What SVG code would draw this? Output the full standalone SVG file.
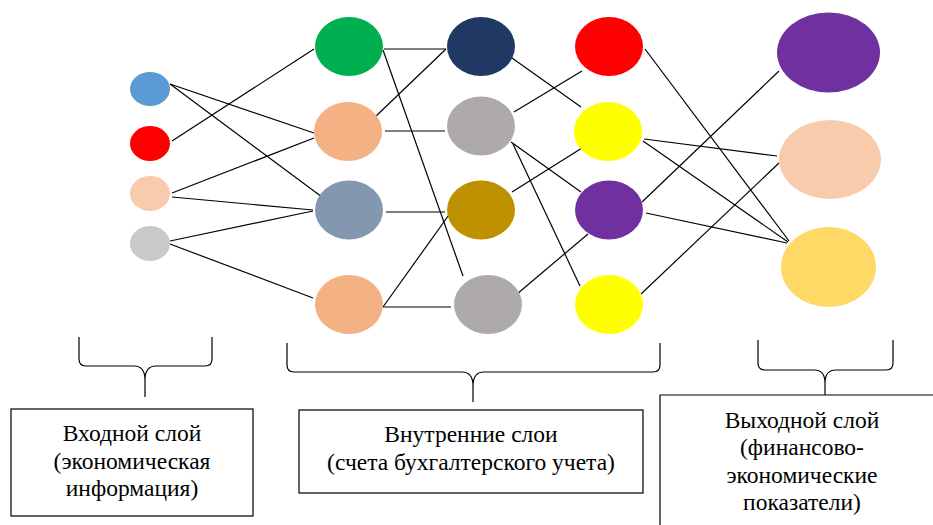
<svg xmlns="http://www.w3.org/2000/svg" width="933" height="525" viewBox="0 0 933 525">
<rect width="933" height="525" fill="#fff"/>
<g id="connectors" stroke="#000" stroke-width="1.2" fill="none">
<line x1="170" y1="84" x2="314" y2="133"/>
<line x1="170" y1="84" x2="322" y2="197"/>
<line x1="172" y1="141" x2="314" y2="49"/>
<line x1="172" y1="193" x2="314" y2="138"/>
<line x1="172" y1="197" x2="313" y2="210"/>
<line x1="170" y1="241" x2="313" y2="211"/>
<line x1="170" y1="244" x2="313" y2="298"/>
<line x1="384" y1="49" x2="446" y2="49"/>
<line x1="383" y1="50" x2="463" y2="276"/>
<line x1="374" y1="118" x2="446" y2="49"/>
<line x1="385" y1="131" x2="445" y2="131"/>
<line x1="386" y1="212" x2="445" y2="212"/>
<line x1="383" y1="307" x2="451" y2="212"/>
<line x1="383" y1="307" x2="451" y2="307"/>
<line x1="512" y1="58" x2="581" y2="107"/>
<line x1="514" y1="112" x2="582" y2="71"/>
<line x1="511" y1="142" x2="581" y2="192"/>
<line x1="513" y1="144" x2="580" y2="286"/>
<line x1="512" y1="192" x2="582" y2="148"/>
<line x1="517" y1="294" x2="588" y2="234"/>
<line x1="645" y1="49" x2="789" y2="241"/>
<line x1="644" y1="139" x2="777" y2="156"/>
<line x1="643" y1="141" x2="788" y2="242"/>
<line x1="642" y1="202" x2="779" y2="71"/>
<line x1="646" y1="213" x2="787" y2="243"/>
<line x1="641" y1="294" x2="779" y2="163"/>
</g>
<g id="in1"><ellipse cx="150" cy="89" rx="20" ry="17" fill="#5B9BD5"/></g>
<g id="in2"><ellipse cx="150" cy="143.5" rx="20" ry="17.5" fill="#FF0000"/></g>
<g id="in3"><ellipse cx="150" cy="193.5" rx="20" ry="17.5" fill="#F8CBAD"/></g>
<g id="in4"><ellipse cx="150" cy="243.5" rx="20" ry="17.5" fill="#C9C9C9"/></g>
<g id="h1a"><ellipse cx="349" cy="46.5" rx="34" ry="29.5" fill="#00B050"/></g>
<g id="h1b"><ellipse cx="348" cy="131.5" rx="34" ry="29.5" fill="#F4B183"/></g>
<g id="h1c"><ellipse cx="349" cy="210" rx="34" ry="29.5" fill="#8497B0"/></g>
<g id="h1d"><ellipse cx="349" cy="304.5" rx="34" ry="29.5" fill="#F4B183"/></g>
<g id="h2a"><ellipse cx="481" cy="46.5" rx="34" ry="29.5" fill="#203864"/></g>
<g id="h2b"><ellipse cx="481" cy="126" rx="34" ry="29.5" fill="#AEAAAA"/></g>
<g id="h2c"><ellipse cx="481" cy="210" rx="34" ry="29.5" fill="#BF9000"/></g>
<g id="h2d"><ellipse cx="488" cy="304.5" rx="34" ry="29.5" fill="#AEAAAA"/></g>
<g id="h3a"><ellipse cx="609" cy="46.5" rx="34" ry="29.5" fill="#FF0000"/></g>
<g id="h3b"><ellipse cx="608" cy="131.5" rx="34" ry="29.5" fill="#FFFF00"/></g>
<g id="h3c"><ellipse cx="609" cy="210" rx="34" ry="29.5" fill="#7030A0"/></g>
<g id="h3d"><ellipse cx="609" cy="304.5" rx="34" ry="29.5" fill="#FFFF00"/></g>
<g id="out1"><ellipse cx="828.5" cy="52.5" rx="51.5" ry="40" fill="#7030A0"/></g>
<g id="out2"><ellipse cx="830" cy="159.5" rx="51" ry="39.5" fill="#F8CBAD"/></g>
<g id="out3"><ellipse cx="828.5" cy="267" rx="47.5" ry="40" fill="#FFD966"/></g>
<g id="braces" stroke="#000" stroke-width="1.2" fill="none">
<path id="brace1" d="M79,337 L79,359 Q79,366 86,366 L134,366 Q145,366 145,380 L145,397 M145,380 Q145,366 156,366 L205,366 Q212,366 212,359 L212,337"/>
<path id="brace2" d="M287,343 L287,365 Q287,372 294,372 L462,372 Q473,372 473,386 L473,402 M473,386 Q473,372 484,372 L653,372 Q660,372 660,365 L660,343"/>
<path id="brace3" d="M758,340 L758,363 Q758,370 765,370 L814,370 Q825,370 825,383 L825,395 M825,383 Q825,370 836,370 L886,370 Q893,370 893,363 L893,340"/>
</g>
<g id="box1"><rect x="11" y="409" width="242" height="107" fill="#fff" stroke="#000" stroke-width="1.2"/>
<text x="132" y="441" font-family="Liberation Serif" font-size="23.5" text-anchor="middle">Входной слой</text>
<text x="132" y="469" font-family="Liberation Serif" font-size="23.5" text-anchor="middle">(экономическая</text>
<text x="132" y="496" font-family="Liberation Serif" font-size="23.5" text-anchor="middle">информация)</text></g>
<g id="box2"><rect x="299" y="410" width="344" height="83" fill="#fff" stroke="#000" stroke-width="1.2"/>
<text x="471" y="442" font-family="Liberation Serif" font-size="23.5" text-anchor="middle">Внутренние слои</text>
<text x="471" y="470" font-family="Liberation Serif" font-size="23.5" text-anchor="middle">(счета бухгалтерского учета)</text></g>
<g id="box3"><path d="M933,395 L660,395 L660,526" fill="#fff" stroke="#000" stroke-width="1.2"/>
<text x="802" y="428" font-family="Liberation Serif" font-size="23.5" text-anchor="middle">Выходной слой</text>
<text x="802" y="455" font-family="Liberation Serif" font-size="23.5" text-anchor="middle">(финансово-</text>
<text x="802" y="483" font-family="Liberation Serif" font-size="23.5" text-anchor="middle">экономические</text>
<text x="802" y="510" font-family="Liberation Serif" font-size="23.5" text-anchor="middle">показатели)</text></g>
</svg>
